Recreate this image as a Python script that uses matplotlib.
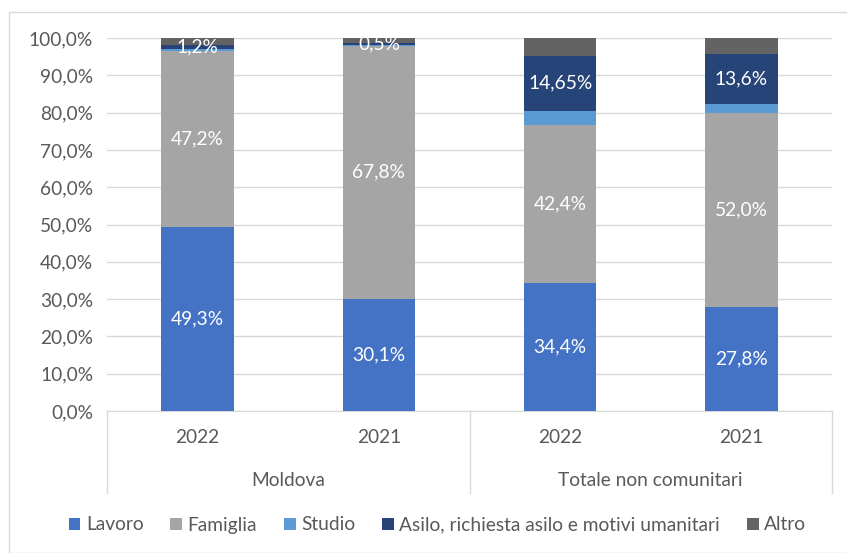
import numpy as np
import matplotlib
matplotlib.use('Agg')
import matplotlib.pyplot as plt
from matplotlib.patches import Rectangle
from matplotlib.lines import Line2D

plt.rcParams['font.family'] = ['Lato', 'DejaVu Sans']

# Data (percent)
years = ['2022', '2021', '2022', '2021']
groups = ['Moldova', 'Totale non comunitari']
series = ['Lavoro', 'Famiglia', 'Studio', 'Asilo, richiesta asilo e motivi umanitari', 'Altro']
lavoro = [49.3, 30.1, 34.4, 27.8]
famiglia = [47.2, 67.8, 42.4, 52.0]
studio = [0.5, 0.3, 3.75, 2.4]
asilo = [1.2, 0.5, 14.65, 13.6]
altro = [1.8, 1.3, 4.8, 4.2]
lavoro_lbl = ['49,3%', '30,1%', '34,4%', '27,8%']
famiglia_lbl = ['47,2%', '67,8%', '42,4%', '52,0%']
asilo_lbl = ['1,2%', '0,5%', '14,65%', '13,6%']

colors = ['#4472C4', '#A5A5A5', '#5B9BD5', '#264478', '#636363']
txt_col = '#595959'
fs = 13.8

W, H = 847, 553
fig = plt.figure(figsize=(W / 100, H / 100), dpi=100)
# chart area border
fig.patches.append(Rectangle((9 / W, 0), 1, 1 - 12 / H, transform=fig.transFigure,
                             fill=False, edgecolor='#D9D9D9', linewidth=1))

ax = fig.add_axes([107 / W, (H - 411) / H, (832 - 107) / W, (411 - 38) / H])

x = np.arange(len(years))
all_vals = [lavoro, famiglia, studio, asilo, altro]
bottom = np.zeros(len(years))
bars = []
for vals, col, name in zip(all_vals, colors, series):
    b = ax.bar(x, vals, 0.4, bottom=bottom, color=col, label=name, zorder=3)
    bars.append((b, bottom.copy(), vals))
    bottom += np.array(vals)

# data labels
for idx, labels in [(0, lavoro_lbl), (1, famiglia_lbl), (3, asilo_lbl)]:
    b, bot, vals = bars[idx]
    for i in range(len(years)):
        ax.text(x[i], bot[i] + vals[i] / 2, labels[i], ha='center', va='center',
                color='white', fontsize=fs, zorder=4)

ax.set_xlim(-0.5, 3.5)
ax.set_ylim(0, 100)
ax.set_yticks(np.arange(0, 101, 10))
ax.set_yticklabels([('%.1f%%' % v).replace('.', ',') for v in np.arange(0, 101, 10)])
ax.yaxis.grid(True, color='#D9D9D9', linewidth=1, zorder=0)
ax.tick_params(axis='y', length=0, pad=10, labelsize=fs, labelcolor=txt_col)
ax.set_xticks(x)
ax.set_xticklabels(years)
ax.tick_params(axis='x', length=0, pad=13, labelsize=fs, labelcolor=txt_col)
for s in ['left', 'right', 'top']:
    ax.spines[s].set_visible(False)
ax.spines['bottom'].set_color('#D9D9D9')

# group labels and separators below the axis
tr = ax.get_xaxis_transform()
ax.text(0.5, -70 / 373, groups[0], transform=tr, ha='center', va='center',
        fontsize=fs, color=txt_col)
ax.text(2.5, -70 / 373, groups[1], transform=tr, ha='center', va='center',
        fontsize=fs, color=txt_col)
for xs in [-0.5, 1.5, 3.5]:
    ax.add_line(Line2D([xs, xs], [0, -82 / 373], transform=tr, color='#D9D9D9',
                       linewidth=1, clip_on=False))

ax.legend(loc='center', bbox_to_anchor=(0.5 - 32 / 725, -114 / 373), ncol=5, frameon=False,
          fontsize=fs, labelcolor=txt_col, handlelength=0.6, handleheight=0.6,
          handletextpad=0.3, columnspacing=1.4)

fig.savefig('out.png', dpi=100)
